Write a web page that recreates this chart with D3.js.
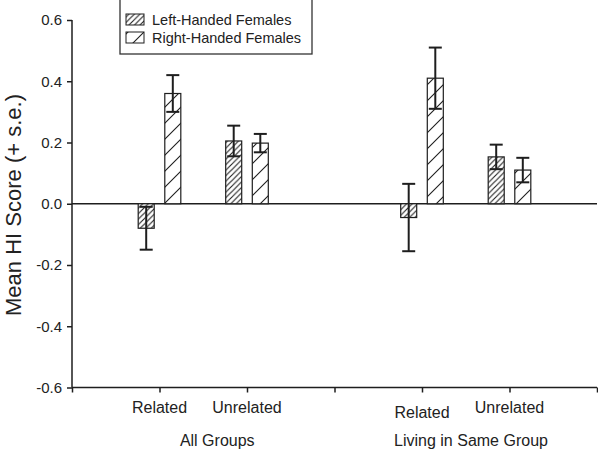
<!DOCTYPE html>
<html><head><meta charset="utf-8">
<script src="https://cdn.jsdelivr.net/npm/d3@7"></script>
<style>body{margin:0;background:#fff}svg{display:block;font-family:"Liberation Sans",Arial,sans-serif}</style>
</head><body><svg id="c" width="598" height="449"></svg>
<script>
const categories = ["Related", "Unrelated", "Related", "Unrelated"];
const catPos = [1, 2, 4, 5];
const groups = ["All Groups", "Living in Same Group"];
const groupPos = [1.66, 4.56];
const seriesNames = ["Left-Handed Females", "Right-Handed Females"];
const leftMeans = [-0.08, 0.205, -0.045, 0.153];
const leftSE = [0.07, 0.05, 0.11, 0.04];
const rightMeans = [0.36, 0.198, 0.41, 0.11];
const rightSE = [0.06, 0.03, 0.10, 0.04];
const yTicks = [-0.6, -0.4, -0.2, 0.0, 0.2, 0.4, 0.6];
const xTicks = [0, 1, 2, 3, 4, 5, 6];

const svg = d3.select("#c");
const ink = "#1e1e1e";
const x = d3.scaleLinear().domain([0, 6]).range([72, 597]);
const y = d3.scaleLinear().domain([-0.6, 0.6]).range([387.5, 20]);

const defs = svg.append("defs");
function hatch(id, s) {
  const p = defs.append("pattern").attr("id", id).attr("patternUnits", "userSpaceOnUse")
    .attr("width", s).attr("height", s);
  p.append("rect").attr("width", s).attr("height", s).attr("fill", "#fff");
  p.append("path").attr("d", `M0,${s} L${s},0 M${-s/2},${s/2} L${s/2},${-s/2} M${s/2},${s*1.5} L${s*1.5},${s/2}`)
    .attr("stroke", ink).attr("stroke-width", 1.1);
}
hatch("hL", 5.5);
hatch("hR", 16);

const off = 0.152, bw = 0.183;
const series = [
  {means: leftMeans, se: leftSE, dx: -off, fill: "url(#hL)"},
  {means: rightMeans, se: rightSE, dx: off, fill: "url(#hR)"}
];

// zero line
svg.append("line").attr("x1", x(0)).attr("x2", x(6)).attr("y1", y(0)).attr("y2", y(0))
  .attr("stroke", ink).attr("stroke-width", 1.5);

series.forEach(s => {
  const g = svg.append("g");
  g.selectAll("rect").data(s.means).join("rect")
    .attr("x", (d, i) => x(catPos[i] + s.dx - bw / 2))
    .attr("width", x(bw) - x(0))
    .attr("y", d => Math.min(y(d), y(0)))
    .attr("height", d => Math.abs(y(d) - y(0)))
    .attr("fill", s.fill).attr("stroke", ink).attr("stroke-width", 1.2);
  const cap = 6.5;
  s.means.forEach((d, i) => {
    const cx = x(catPos[i] + s.dx);
    const lo = y(d - s.se[i]), hi = y(d + s.se[i]);
    g.append("line").attr("x1", cx).attr("x2", cx).attr("y1", lo).attr("y2", hi).attr("stroke", ink).attr("stroke-width", 2);
    [lo, hi].forEach(v => g.append("line").attr("x1", cx - cap).attr("x2", cx + cap).attr("y1", v).attr("y2", v).attr("stroke", ink).attr("stroke-width", 2));
  });
});

// y axis
const fmt = d => d3.format(".1f")(d).replace("\u2212", "-");
const yAxis = svg.append("g").attr("transform", `translate(${x(0)},0)`)
  .call(d3.axisLeft(y).tickValues(yTicks).tickFormat(fmt).tickSize(5).tickPadding(5));
yAxis.select(".domain").attr("stroke", ink).attr("stroke-width", 1.5).attr("d", `M0,${y(0.6)}V${y(-0.6)}`);
yAxis.selectAll(".tick line").attr("stroke", ink).attr("stroke-width", 1.5);
yAxis.selectAll("text").attr("font-size", 15).attr("fill", "#222").attr("font-family", "Liberation Sans, Arial, sans-serif");

// x axis
const xAxis = svg.append("g").attr("transform", `translate(0,${y(-0.6)})`)
  .call(d3.axisBottom(x).tickValues(xTicks).tickFormat("").tickSize(5));
xAxis.select(".domain").attr("stroke", ink).attr("stroke-width", 1.5).attr("d", `M${x(0)},0H${x(6)}`);
xAxis.selectAll(".tick line").attr("stroke", ink).attr("stroke-width", 1.5);

// category labels
const catY = [413, 413, 418, 413];
svg.selectAll("text.cat").data(categories).join("text").attr("class", "cat")
  .attr("x", (d, i) => x(catPos[i])).attr("y", (d, i) => catY[i])
  .attr("text-anchor", "middle").attr("font-size", 16).attr("fill", "#222").text(d => d);
svg.selectAll("text.grp").data(groups).join("text").attr("class", "grp")
  .attr("x", (d, i) => x(groupPos[i])).attr("y", 446)
  .attr("text-anchor", "middle").attr("font-size", 16).attr("fill", "#222").text(d => d);

// y label
svg.append("text").attr("transform", `translate(21,${205}) rotate(-90)`)
  .attr("text-anchor", "middle").attr("font-size", 22).attr("fill", "#222").text("Mean HI Score (+ s.e.)");

// legend
const lg = svg.append("g");
lg.append("rect").attr("x", 120).attr("y", -1).attr("width", 192).attr("height", 55)
  .attr("fill", "#fff").attr("stroke", "#333").attr("stroke-width", 1.3);
seriesNames.forEach((n, i) => {
  const yy = 14 + i * 18;
  lg.append("rect").attr("x", 126).attr("y", yy).attr("width", 18).attr("height", 11)
    .attr("fill", series[i].fill).attr("stroke", ink).attr("stroke-width", 1);
  lg.append("text").attr("x", 152).attr("y", yy + 10.5).attr("font-size", 14.5).attr("fill", "#222").text(n);
});
</script></body></html>
